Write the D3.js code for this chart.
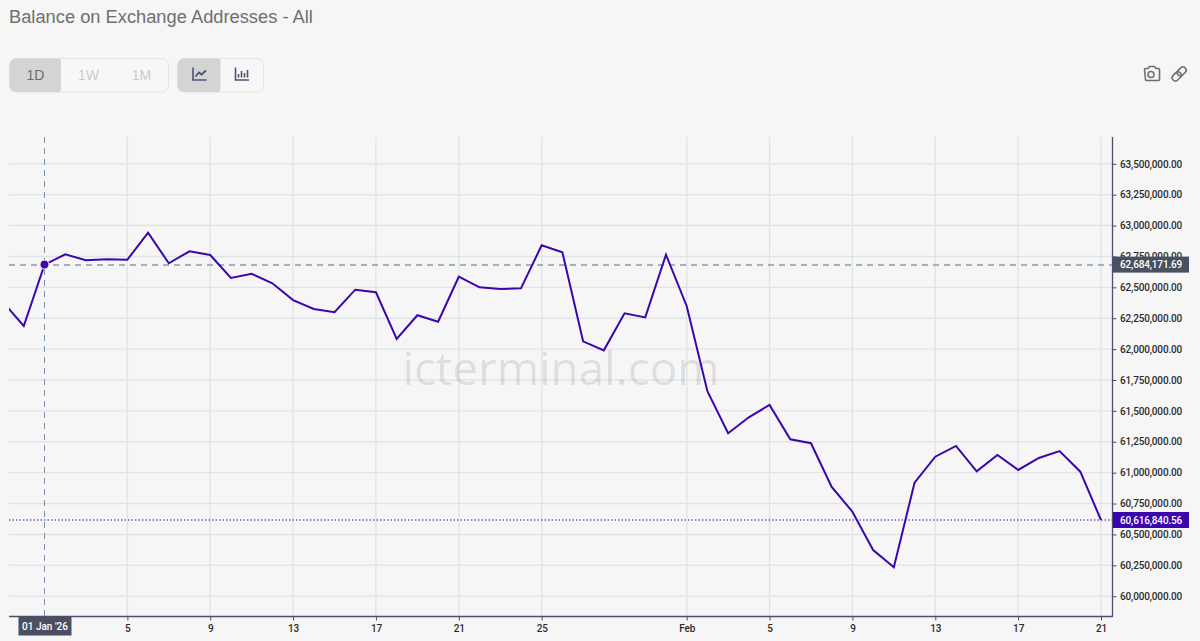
<!DOCTYPE html>
<html><head><meta charset="utf-8">
<style>
html,body{margin:0;padding:0;background:#f6f6f6;overflow:hidden}
svg{display:block}
</style>
<script src="https://cdn.jsdelivr.net/npm/d3@7"></script>
</head><body>
<svg id="c" width="1200" height="641"></svg>
<script>
const seriesStart = "2025-12-30";
const seriesEnd = "2026-02-22";
const balances = [62381000,62187000,62684171.69,62767000,62719000,62727000,62724000,62942000,62695000,62792000,62762000,
62576000,62610000,62533000,62397000,62325000,62298000,62481000,62460000,62082000,62274000,62222000,62586000,62500000,
62487000,62492000,62840000,62784000,62063000,61990000,62290000,62257000,62764000,62349000,61659000,61319000,61448000,
61548000,61270000,61238000,60884000,60684000,60374000,60234000,60919000,61129000,61216000,61011000,61143000,61022000,
61119000,61175000,61008000,60616840.56];
const yTicks = [60000000,60250000,60500000,60750000,61000000,61250000,61500000,61750000,62000000,62250000,62500000,62750000,63000000,63250000,63500000];
const xTickDates = ["2026-01-05","2026-01-09","2026-01-13","2026-01-17","2026-01-21","2026-01-25","2026-02-01","2026-02-05","2026-02-09","2026-02-13","2026-02-17","2026-02-21"];
const xTickLabels = ["5","9","13","17","21","25","Feb","5","9","13","17","21"];
const crossDate = "2026-01-01";
const crossLabel = "01 Jan '26";
const crossValue = 62684171.69;
const lastValue = 60616840.56;
const titleText = "Balance on Exchange Addresses - All";
const rangeButtons = ["1D","1W","1M"];
const watermark = "icterminal.com";

const P = {left:9,right:1112.5,top:137,bottom:616.5};
const ACC = "#3c06ad", AXC = "#4f4d72", GRID = "#dfe5e5", DARK = "#4a5062", AF = "Roboto, sans-serif";
const svg = d3.select("#c");
const parse = d3.utcParse("%Y-%m-%d");
const days = d3.utcDay.range(parse(seriesStart), parse(seriesEnd));
const data = days.map((d,i)=>({d,v:balances[i]}));
const x = d3.scaleUtc().domain([parse("2026-01-01"),parse("2026-02-21")]).range([44.5,1101]);
const y = d3.scaleLinear().domain([60000000,63500000]).range([596.2,163.8]);
const tickDs = xTickDates.map(parse);
const yFmt = d3.format(",.2f");

svg.append("rect").attr("width",1200).attr("height",641).attr("fill","#f6f6f6");
svg.append("text").attr("x",9).attr("y",23).attr("font-family","Liberation Sans, Arial, sans-serif")
  .attr("font-size",18.3).attr("fill","#6f6f6f").text(titleText);

// toolbar
function group(gx,gw){svg.append("rect").attr("x",gx+.5).attr("y",58.5).attr("width",gw).attr("height",33.5).attr("rx",7)
  .attr("fill","#f7f7f7").attr("stroke","#e3e3e3");}
function active(gx,w){svg.append("path").attr("fill","#d4d4d4")
  .attr("d",`M${gx+7},58.5H${gx+w-3}a3,3 0 0 1 3,3V89a3,3 0 0 1 -3,3H${gx+7}a7,7 0 0 1 -7,-7V65.5a7,7 0 0 1 7,-7Z`);}
group(9,159); active(9.5,51.5);
group(177,86); active(177.5,43);
const btnX=[35.5,88.5,141.5], btnC=["#6c6c6c","#cbcbcb","#cbcbcb"];
rangeButtons.forEach((t,i)=>svg.append("text").attr("x",btnX[i]).attr("y",80).attr("text-anchor","middle")
  .attr("font-family","Liberation Sans, Arial, sans-serif").attr("font-size",14).attr("fill",btnC[i]).text(t));
const ic = svg.append("g").attr("fill","none").attr("stroke","#4a5570").attr("stroke-width",1.6);
ic.append("path").attr("d","M193,67.5V80H206.5");
ic.append("path").attr("d","M195.5,76.5L199,72.5L201.5,74.5L206,70.5").attr("stroke-width",1.8);
ic.append("path").attr("d","M235.5,67.5V80H249");
ic.append("path").attr("d","M238.5,77.5V74M241.5,77.5V71M244.5,77.5V73M247.5,77.5V70");
const ic2 = svg.append("g").attr("fill","none").attr("stroke","#707070").attr("stroke-width",1.6);
ic2.append("path").attr("d","M1144.5,69.5a1,1 0 0 1 1,-1h2.5l1.5,-2h5l1.5,2h2.5a1,1 0 0 1 1,1v10a1,1 0 0 1 -1,1h-12a1,1 0 0 1 -1,-1Z");
ic2.append("circle").attr("cx",1151).attr("cy",74.5).attr("r",3);
ic2.append("rect").attr("x",1176.7).attr("y",68.2).attr("width",10).attr("height",6.5).attr("rx",3.2)
  .attr("transform","rotate(-45 1181.7 71.5)");
ic2.append("rect").attr("x",1171.7).attr("y",73.2).attr("width",10).attr("height",6.5).attr("rx",3.2)
  .attr("transform","rotate(-45 1176.7 76.5)");

// grid
const grid = svg.append("g").attr("stroke",GRID).attr("stroke-width",1.4);
grid.selectAll("line.h").data(yTicks).join("line").attr("class","h")
  .attr("x1",P.left).attr("x2",P.right).attr("y1",d=>y(d)).attr("y2",d=>y(d));
grid.selectAll("line.v").data(tickDs).join("line").attr("class","v")
  .attr("x1",d=>x(d)).attr("x2",d=>x(d)).attr("y1",P.top).attr("y2",P.bottom);

// watermark
svg.append("text").attr("x",561).attr("y",385).attr("text-anchor","middle").attr("font-family","'Open Sans', sans-serif")
  .attr("font-size",45.8).attr("fill","#000").attr("fill-opacity",0.1).text(watermark);

// crosshairs and last-value line
svg.append("line").attr("x1",x(parse(crossDate))).attr("x2",x(parse(crossDate))).attr("y1",P.top).attr("y2",P.bottom)
  .attr("stroke","#7f91ab").attr("stroke-dasharray","6 5");
svg.append("line").attr("x1",P.left).attr("x2",P.right).attr("y1",y(crossValue)+.4).attr("y2",y(crossValue)+.4)
  .attr("stroke","#8d99ae").attr("stroke-width",1.4).attr("stroke-dasharray","6 5");
svg.append("line").attr("x1",P.left).attr("x2",P.right).attr("y1",y(lastValue)).attr("y2",y(lastValue))
  .attr("stroke",ACC).attr("stroke-width",1.2).attr("stroke-dasharray","1.5 2");

// series
svg.append("clipPath").attr("id","plot").append("rect").attr("x",P.left).attr("y",P.top)
  .attr("width",P.right-P.left).attr("height",P.bottom-P.top);
svg.append("path").datum(data).attr("clip-path","url(#plot)").attr("fill","none").attr("stroke",ACC).attr("stroke-width",2)
  .attr("stroke-linejoin","miter").attr("d",d3.line().x(d=>x(d.d)).y(d=>y(d.v)));
svg.append("circle").attr("cx",x(parse(crossDate))).attr("cy",y(crossValue)).attr("r",4.5)
  .attr("fill",ACC).attr("stroke","#f6f6f6").attr("stroke-width",1);

// axes
const yAxis = svg.append("g").attr("transform",`translate(${P.right},0)`)
  .call(d3.axisRight(y).tickValues(yTicks).tickFormat(yFmt).tickSize(4).tickPadding(3.5));
yAxis.select(".domain").remove();
const xAxis = svg.append("g").attr("transform",`translate(0,${P.bottom})`)
  .call(d3.axisBottom(x).tickValues(tickDs).tickFormat((d,i)=>xTickLabels[i]).tickSize(4).tickPadding(4));
xAxis.select(".domain").remove();
[yAxis,xAxis].forEach(a=>{a.selectAll("line").attr("stroke",AXC);
  a.selectAll("text").attr("font-family",AF).attr("font-size",10).attr("letter-spacing",-0.15).attr("font-weight",500).attr("fill","#2b2b2b");});
svg.append("line").attr("x1",P.left).attr("x2",P.right+.5).attr("y1",P.bottom).attr("y2",P.bottom).attr("stroke",AXC).attr("stroke-width",1.3);
svg.append("line").attr("x1",P.right).attr("x2",P.right).attr("y1",P.top).attr("y2",P.bottom).attr("stroke",AXC).attr("stroke-width",1.3);

// value tags
function tag(v,fill){const cy=y(v);
  svg.append("rect").attr("x",P.right+.5).attr("y",cy-8).attr("width",76).attr("height",16).attr("fill",fill);
  svg.append("text").attr("x",1120).attr("y",cy+3.6).attr("font-family",AF).attr("font-size",10).attr("letter-spacing",-0.15).attr("font-weight",500)
    .attr("fill","#fff").text(yFmt(v));}
tag(crossValue,DARK); tag(lastValue,ACC);
svg.append("rect").attr("x",18.5).attr("y",P.bottom).attr("width",53).attr("height",19).attr("fill",DARK);
svg.append("text").attr("x",45).attr("y",629.5).attr("text-anchor","middle").attr("font-family",AF).attr("font-size",10)
  .attr("font-weight",500).attr("fill","#fff").text(crossLabel);
</script>
</body></html>
